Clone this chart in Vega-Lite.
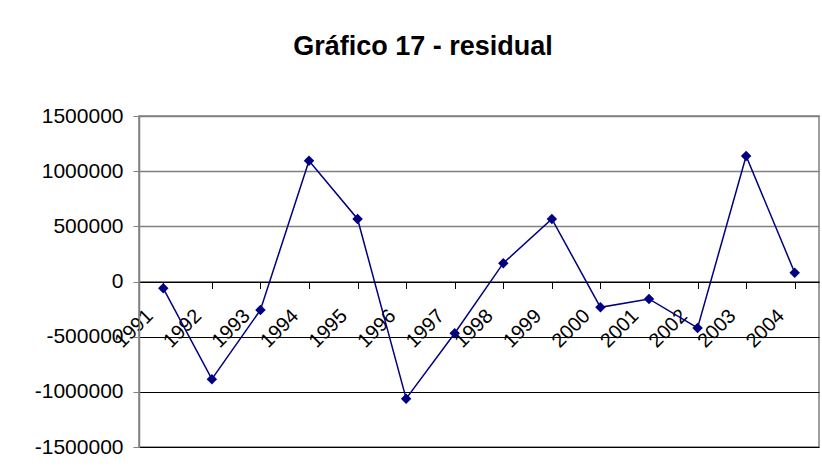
{
  "$schema": "https://vega.github.io/schema/vega-lite/v6.json",
  "description": "Gráfico 17 - residual, 1991-2004.",
  "autosize": "none",
  "width": 680,
  "height": 331,
  "padding": {"left": 139, "top": 116, "right": 3, "bottom": 28},
  "background": "white",
  "title": {
    "text": "Gráfico 17 - residual",
    "font": "Liberation Sans",
    "fontSize": 27,
    "fontWeight": "bold",
    "color": "black",
    "anchor": "middle",
    "dx": -56,
    "baseline": "alphabetic",
    "offset": 23
  },
  "config": {
    "view": {"stroke": "#808080", "strokeWidth": 1.5},
    "axis": {
      "labelFont": "Liberation Sans",
      "labelFontSize": 21,
      "labelColor": "black",
      "title": null
    }
  },
  "data": {
    "values": [
      {"year": "1991", "residual": -62000},
      {"year": "1992", "residual": -885000},
      {"year": "1993", "residual": -258000},
      {"year": "1994", "residual": 1094000},
      {"year": "1995", "residual": 567000},
      {"year": "1996", "residual": -1062000},
      {"year": "1997", "residual": -469000},
      {"year": "1998", "residual": 166000},
      {"year": "1999", "residual": 567000},
      {"year": "2000", "residual": -234000},
      {"year": "2001", "residual": -158000},
      {"year": "2002", "residual": -421000},
      {"year": "2003", "residual": 1137000},
      {"year": "2004", "residual": 80000}
    ]
  },
  "mark": {
    "type": "line",
    "color": "#000080",
    "strokeWidth": 1.5,
    "point": {"shape": "diamond", "size": 110, "filled": true, "color": "#000080", "opacity": 1}
  },
  "encoding": {
    "x": {
      "field": "year",
      "type": "ordinal",
      "scale": {"paddingInner": 0, "paddingOuter": 0},
      "axis": {
        "orient": "bottom",
        "offset": -165.5,
        "domainColor": "black",
        "domainWidth": 1,
        "tickColor": "black",
        "tickSize": 7,
        "bandPosition": 1,
        "tickExtra": true,
        "labelAngle": -45,
        "labelAlign": "right",
        "labelBaseline": "middle",
        "labelFontSize": 20,
        "labelPadding": 24,
        "labelOffset": -14,
        "grid": false
      }
    },
    "y": {
      "field": "residual",
      "type": "quantitative",
      "scale": {"domain": [-1500000, 1500000], "nice": false, "zero": false},
      "axis": {
        "values": [-1500000, -1000000, -500000, 0, 500000, 1000000, 1500000],
        "labelExpr": "'' + datum.value",
        "grid": true,
        "gridColor": {"condition": {"test": "datum.value > 0", "value": "#808080"}, "value": "black"},
        "gridWidth": {"condition": {"test": "datum.value > 0", "value": 1.5}, "value": 1},
        "gridOpacity": 1,
        "domainColor": "#808080",
        "domainWidth": 1.5,
        "tickColor": "#808080",
        "tickSize": 6,
        "labelPadding": 10
      }
    }
  }
}
